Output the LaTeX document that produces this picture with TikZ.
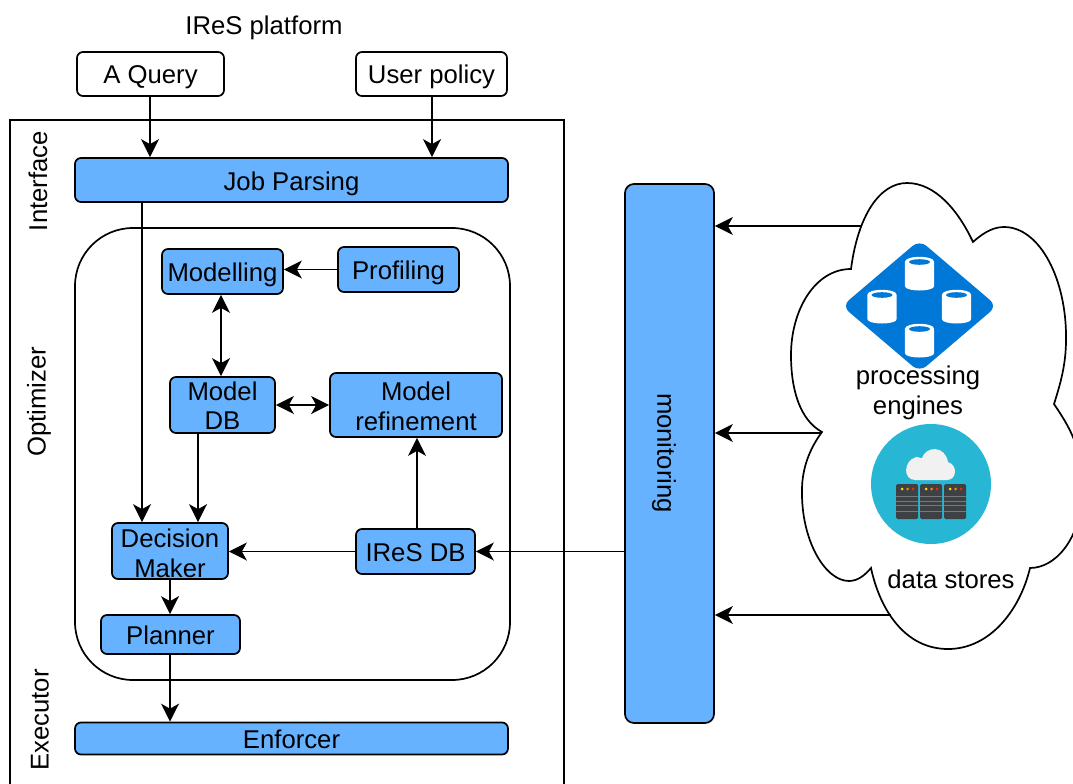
\documentclass[tikz,border=0pt]{standalone}
\usepackage{fontspec}
\setmainfont{Liberation Sans}
\usetikzlibrary{arrows.meta,calc}
\definecolor{boxblue}{HTML}{66B2FF}
\definecolor{diablue}{HTML}{0078D7}
\definecolor{teal}{HTML}{27B7D4}
\definecolor{rackdark}{HTML}{3E4144}
\definecolor{rackline}{HTML}{77797A}
\definecolor{cloudw}{HTML}{F0F1F0}
\tikzset{
  txt/.style={font=\fontsize{25.7}{29.5}\selectfont,align=center,text=black},
  plainlabel/.style={txt,inner sep=0pt},
  strutted/.style={execute at begin node={\rule{0pt}{26pt}},execute at end node={\rule[-6pt]{0pt}{6pt}}},
  whitebox/.style={txt,strutted,draw=black,fill=white,line width=1.7pt,rounded corners=6pt,inner sep=0pt},
  bluebox/.style={txt,strutted,draw=black,fill=boxblue,line width=1.7pt,rounded corners=6pt,inner sep=0pt},
  bluetwo/.style={font=\fontsize{25.7}{29.5}\selectfont,text=black,draw=black,fill=boxblue,line width=1.7pt,rounded corners=6pt,inner sep=0pt},
  arr/.style={line width=1.7pt,draw=black,-{Stealth[length=18pt,width=18pt,inset=5pt]}},
  darr/.style={line width=1.7pt,draw=black,{Stealth[length=18pt,width=18pt,inset=5pt]}-{Stealth[length=18pt,width=18pt,inset=5pt]}},
  frame/.style={draw=black,line width=1.7pt},
  bx/.style args={#1/#2}{minimum width=#1pt,minimum height=#2pt},
}
\newcommand{\twolined}[4]{\makebox[0pt]{\raisebox{#3pt}[0pt][0pt]{#1}} \kern-\fontdimen2\font\makebox[0pt]{\raisebox{#4pt}[0pt][0pt]{#2}}}
\newcommand{\dbcyl}[2]{%
  \fill[white] (#1-14.7,#2-12) -- (#1-14.7,#2+12) .. controls (#1-14.7,#2+18) and (#1+14.7,#2+18) .. (#1+14.7,#2+12) -- (#1+14.7,#2-12) .. controls (#1+14.7,#2-19) and (#1-14.7,#2-19) .. (#1-14.7,#2-12) -- cycle;
  \fill[diablue] (#1,#2-12) ellipse[x radius=10.5,y radius=2.8];
}
\newcommand{\rackunit}[1]{%
  \fill[rackdark,rounded corners=1.5pt] (#1,484) rectangle (#1+22,519);
  \fill[rackline] (#1,495.5) rectangle (#1+22,496.5);
  \fill[rackline] (#1,500.5) rectangle (#1+22,501.5);
  \fill[rackline] (#1,505) rectangle (#1+22,506);
  \fill[rackline] (#1,511) rectangle (#1+22,512);
  \fill[yellow!80!orange] (#1+6,489) circle[radius=1.5];
  \fill[orange] (#1+11.5,489) circle[radius=1.5];
  \fill[red!70!orange] (#1+17,489) circle[radius=1.5];
}
\begin{document}
\begin{tikzpicture}[x=1pt,y=-1pt]
\useasboundingbox (0,0) rectangle (1073,784);
\clip (0,0) rectangle (1073,784);

% outer frame
\draw[frame] (10,800) -- (10,120) -- (564,120) -- (564,800);
% optimizer region
\node[draw=black,line width=1.7pt,rounded corners=58pt,minimum width=435pt,minimum height=452pt,inner sep=0pt] (opt) at (292.5,454) {};

\node[plainlabel] (title) at (264,28) {IReS platform};
\node[whitebox,bx=147/44] (query) at (150.5,74) {A Query};
\node[whitebox,bx=151/44] (policy) at (431.5,74) {User policy};

\node[plainlabel,rotate=90] (linterface) at (38,181) {Interface};
\node[plainlabel,rotate=90] (loptimizer) at (39,402) {Optimizer};
\node[plainlabel,rotate=90] (lexecutor) at (40,720) {Executor};

\node[bluebox,bx=433/44] (job) at (291.5,180) {Job Parsing};
\node[bluebox,bx=121/45] (modelling) at (222.5,271.5) {Modelling};
\node[bluebox,bx=121/45] (profiling) at (398.5,269.5) {Profiling};
\node[bluetwo,bx=105/56] (modeldb) at (222.5,405) {\twolined{Model}{DB}{5}{-24.5}};
\node[bluetwo,bx=172/64] (refine) at (416,405) {\twolined{Model}{refinement}{5}{-25}};
\node[bluetwo,bx=116/56] (decision) at (170,551) {\twolined{Decision}{Maker}{4}{-26}};
\node[bluebox,bx=119/45] (iresdb) at (415.5,551.5) {IReS DB};
\node[bluebox,bx=139/39] (planner) at (170.5,634.5) {Planner};
\node[bluebox,bx=433/29] (enforcer) at (291.5,738.5) {Enforcer};
\node[bluebox,rounded corners=9pt,bx=89/539] (monitor) at (669.5,453.5) {};
\node[plainlabel,rotate=-90] (lmonitor) at (664,453) {monitoring};

% cloud
\draw[line width=1.7pt,fill=white] (851,269)
  .. controls (858,215) and (880,183) .. (907,183)
  .. controls (935,183) and (958,210) .. (973,242)
  .. controls (985,231) and (995,227) .. (1004,227)
  .. controls (1040,227) and (1067,280) .. (1066,340)
  .. controls (1066,365) and (1060,385) .. (1054,404)
  .. controls (1068,425) and (1085,450) .. (1082,495)
  .. controls (1080,540) and (1055,568) .. (1030,568)
  .. controls (1020,610) and (990,649) .. (948,649)
  .. controls (905,649) and (880,610) .. (871,568)
  .. controls (865,575) and (858,581) .. (849,581)
  .. controls (825,581) and (801,540) .. (802,490)
  .. controls (802,468) and (810,448) .. (822,432)
  .. controls (800,420) and (791,390) .. (791,355)
  .. controls (791,310) and (815,269) .. (851,269) -- cycle;

\coordinate (c1) at (861,226);
\coordinate (c2) at (822,433);
\coordinate (c3) at (891,615);

% connectors
\draw[arr] (150,0 |- query.south) -- (150,0 |- job.north);
\draw[arr] (432,0 |- policy.south) -- (432,0 |- job.north);
\draw[arr] (142,0 |- job.south) -- (142,0 |- decision.north);
\draw[arr] (profiling.west) -- (profiling.west -| modelling.east);
\draw[darr] (221,0 |- modelling.south) -- (221,0 |- modeldb.north);
\draw[darr] (modeldb.east) -- (refine.west);
\draw[arr] (198,0 |- modeldb.south) -- (198,0 |- decision.north);
\draw[arr] (417,0 |- iresdb.north) -- (417,0 |- refine.south);
\draw[arr] (iresdb.west) -- (iresdb.west -| decision.east);
\draw[arr] (monitor.west |- iresdb.east) -- (iresdb.east);
\draw[arr] (170,0 |- decision.south) -- (170,0 |- planner.north);
\draw[arr] (170,0 |- planner.south) -- (170,0 |- enforcer.north);
\draw[arr] (c1) -- (c1 -| monitor.east);
\draw[arr] (c2) -- (c2 -| monitor.east);
\draw[arr] (c3) -- (c3 -| monitor.east);

% storage icon
\fill[diablue,rounded corners=9pt] (919.5,240) -- (997,306) -- (919.5,372) -- (842,306) -- cycle;
\dbcyl{919.5}{274}
\dbcyl{882}{307}
\dbcyl{956.5}{307}
\dbcyl{919.5}{341}
\node[plainlabel,font=\fontsize{25.7}{30}\selectfont] (lproc) at (918,393) {processing\\engines};

% data store icon
\fill[teal] (931,484) circle[radius=60];
\fill[cloudw] (915,480) .. controls (903,480) and (903,461) .. (916,457)
  .. controls (920,457) and (921,459) .. (922,458)
  .. controls (926,446) and (945,445) .. (948,462)
  .. controls (958,465) and (957,480) .. (947,480) -- cycle;
\rackunit{896}
\rackunit{920}
\rackunit{944}
\node[plainlabel] (lstore) at (951,579) {data stores};
\end{tikzpicture}
\end{document}
